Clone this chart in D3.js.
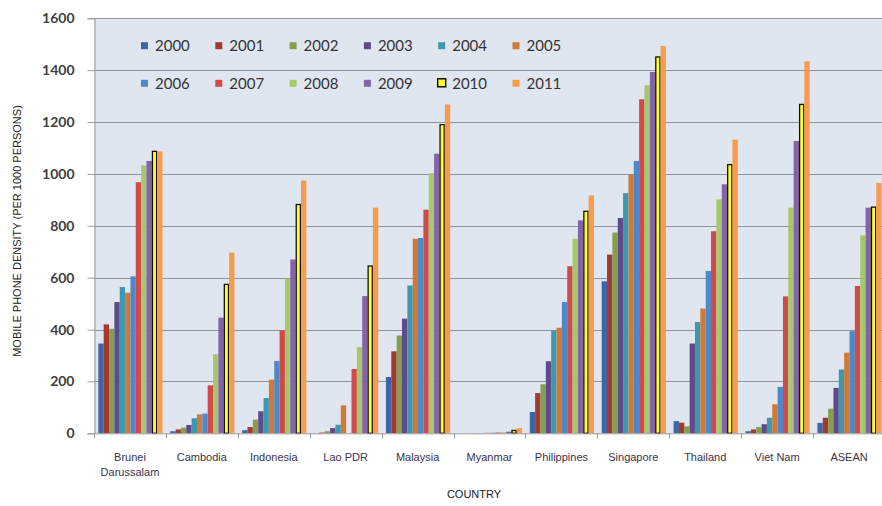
<!DOCTYPE html>
<html>
<head>
<meta charset="utf-8">
<script src="https://cdn.jsdelivr.net/npm/d3@7"></script>
<style>
  html, body { margin: 0; padding: 0; background: #fff; }
  svg { display: block; }
</style>
</head>
<body>
<svg id="chart" width="882" height="506"></svg>
<script>
// ---- Data ----
const countries = ["Brunei Darussalam", "Cambodia", "Indonesia", "Lao PDR", "Malaysia", "Myanmar",
                   "Philippines", "Singapore", "Thailand", "Viet Nam", "ASEAN"];
const countryLabels = [["Brunei", "Darussalam"], ["Cambodia"], ["Indonesia"], ["Lao PDR"], ["Malaysia"],
                       ["Myanmar"], ["Philippines"], ["Singapore"], ["Thailand"], ["Viet Nam"], ["ASEAN"]];
const years = ["2000", "2001", "2002", "2003", "2004", "2005", "2006", "2007", "2008", "2009", "2010", "2011"];

const v2000 = [346, 8, 12, 1, 217, 0, 82, 586, 47, 8, 40];
const v2001 = [420, 15, 24, 3, 316, 0, 155, 689, 41, 15, 60];
const v2002 = [403, 22, 53, 8, 377, 0, 189, 774, 27, 24, 95];
const v2003 = [506, 32, 85, 20, 442, 1, 278, 830, 346, 35, 175];
const v2004 = [564, 58, 136, 33, 570, 1, 397, 926, 429, 60, 246];
const v2005 = [542, 73, 207, 108, 750, 2, 407, 998, 481, 112, 311];
const v2006 = [605, 76, 279, 0, 753, 2, 506, 1050, 626, 179, 394];
const v2007 = [968, 185, 397, 248, 862, 3, 644, 1288, 779, 528, 568];
const v2008 = [1033, 305, 596, 333, 1003, 4, 750, 1342, 902, 870, 763];
const v2009 = [1050, 446, 670, 529, 1078, 6, 821, 1393, 960, 1127, 870];
const v2010 = [1087, 574, 882, 645, 1190, 11, 856, 1451, 1036, 1268, 872];
const v2011 = [1087, 697, 975, 870, 1268, 20, 917, 1493, 1132, 1434, 965];

const seriesValues = [v2000, v2001, v2002, v2003, v2004, v2005, v2006, v2007, v2008, v2009, v2010, v2011];
const yTicks = [0, 200, 400, 600, 800, 1000, 1200, 1400, 1600];

const colors = ["#3f65a3", "#a23a32", "#85a04d", "#5f4b8b", "#3b9ab0", "#d17a37",
                "#4f88c9", "#cf4a48", "#a6c86a", "#8363a9", "#ffff2a", "#f89b4d"];

// ---- Layout ----
const svg = d3.select("#chart");
const plotL = 94, plotR = 885, plotT = 18.3, plotB = 433.3;

const x0 = d3.scaleBand().domain(countries).range([plotL, plotR]).padding(0);
const x1 = d3.scaleBand().domain(years).range([0, x0.bandwidth()]).paddingInner(0).paddingOuter(0.72).align(0.56);
const y = d3.scaleLinear().domain([0, 1600]).range([plotB, plotT]);

// background
svg.append("rect").attr("x", 0).attr("y", 0).attr("width", 882).attr("height", 506).attr("fill", "#ffffff");
svg.append("rect").attr("x", plotL).attr("y", plotT).attr("width", plotR - plotL).attr("height", plotB - plotT)
  .attr("fill", "#dfe6f0");

// gridlines
svg.append("g").selectAll("line").data(yTicks.filter(d => d > 0)).join("line")
  .attr("x1", plotL).attr("x2", plotR)
  .attr("y1", d => Math.round(y(d)) + 0.5).attr("y2", d => Math.round(y(d)) + 0.5)
  .attr("stroke", "#8f9399").attr("stroke-width", 1);

// y axis
const yAxis = d3.axisLeft(y).tickValues(yTicks).tickSize(7).tickPadding(13).tickFormat(d3.format("d"));
const gy = svg.append("g").attr("transform", `translate(${plotL + 0.5},0)`).call(yAxis);
gy.select(".domain").attr("stroke", "#9a9a9a");
gy.selectAll(".tick line").attr("stroke", "#9a9a9a");
gy.selectAll(".tick text").attr("font-family", "Lato, 'Open Sans', sans-serif").attr("font-weight", "700")
  .attr("font-size", 14).attr("fill", "#404040");

// bars
const groups = svg.append("g").selectAll("g").data(countries).join("g")
  .attr("transform", d => `translate(${x0(d)},0)`);
groups.selectAll("rect").data((c, ci) => years.map((yr, yi) => ({ yr, yi, v: seriesValues[yi][ci] })))
  .join("rect")
  .attr("x", d => x1(d.yr) + (d.yr === "2010" ? 0.6 : 0))
  .attr("width", d => x1.bandwidth() - (d.yr === "2010" ? 1.2 : 0))
  .attr("y", d => y(d.v))
  .attr("height", d => plotB - y(d.v))
  .attr("fill", d => colors[d.yi])
  .attr("stroke", d => d.yr === "2010" && d.v > 0 ? "#111" : "none")
  .attr("stroke-width", 1.3);

// x axis
const xAxisLine = svg.append("g");
xAxisLine.append("line").attr("x1", plotL).attr("x2", plotR).attr("y1", plotB + 0.5).attr("y2", plotB + 0.5)
  .attr("stroke", "#9a9a9a");
xAxisLine.selectAll("line.tk").data(countries.map(c => x0(c)).concat([plotR])).join("line")
  .attr("class", "tk")
  .attr("x1", d => Math.round(d) + 0.5).attr("x2", d => Math.round(d) + 0.5)
  .attr("y1", plotB).attr("y2", plotB + 5).attr("stroke", "#9a9a9a");

const xl = svg.append("g");
countries.forEach((c, i) => {
  const t = xl.append("text")
    .attr("x", x0(c) + x0.bandwidth() / 2).attr("y", 460.5)
    .attr("text-anchor", "middle")
    .attr("font-family", "'Liberation Sans', Arial, sans-serif").attr("font-size", 11)
    .attr("fill", "#3a3448");
  countryLabels[i].forEach((line, li) => {
    t.append("tspan").attr("x", x0(c) + x0.bandwidth() / 2).attr("dy", li === 0 ? 0 : 15).text(line);
  });
});

// axis titles
svg.append("text").attr("x", 474).attr("y", 498).attr("text-anchor", "middle")
  .attr("font-family", "'Liberation Sans', Arial, sans-serif").attr("font-size", 11).attr("fill", "#222")
  .text("COUNTRY");
svg.append("text").attr("transform", "translate(21,231) rotate(-90)").attr("text-anchor", "middle")
  .attr("font-family", "'Liberation Sans', Arial, sans-serif").attr("font-size", 11).attr("fill", "#222")
  .text("MOBILE PHONE DENSITY (PER 1000 PERSONS)");

// legend
const legend = svg.append("g");
years.forEach((yr, i) => {
  const col = i % 6, row = Math.floor(i / 6);
  const lx = 141 + col * 74.3, ly = row === 0 ? 45.7 : 83.3;
  const g = legend.append("g");
  if (yr === "2010") {
    g.append("rect").attr("x", lx - 0.5).attr("y", ly - 4.5).attr("width", 8).attr("height", 8)
      .attr("fill", colors[i]).attr("stroke", "#111").attr("stroke-width", 1.5);
  } else {
    g.append("rect").attr("x", lx).attr("y", ly - 3.5).attr("width", 7).attr("height", 7).attr("fill", colors[i]);
  }
  g.append("text").attr("x", lx + 14).attr("y", ly + 5.5)
    .attr("font-family", "Lato, 'Open Sans', sans-serif").attr("font-size", 15).attr("fill", "#333")
    .text(yr);
});
</script>
</body>
</html>
